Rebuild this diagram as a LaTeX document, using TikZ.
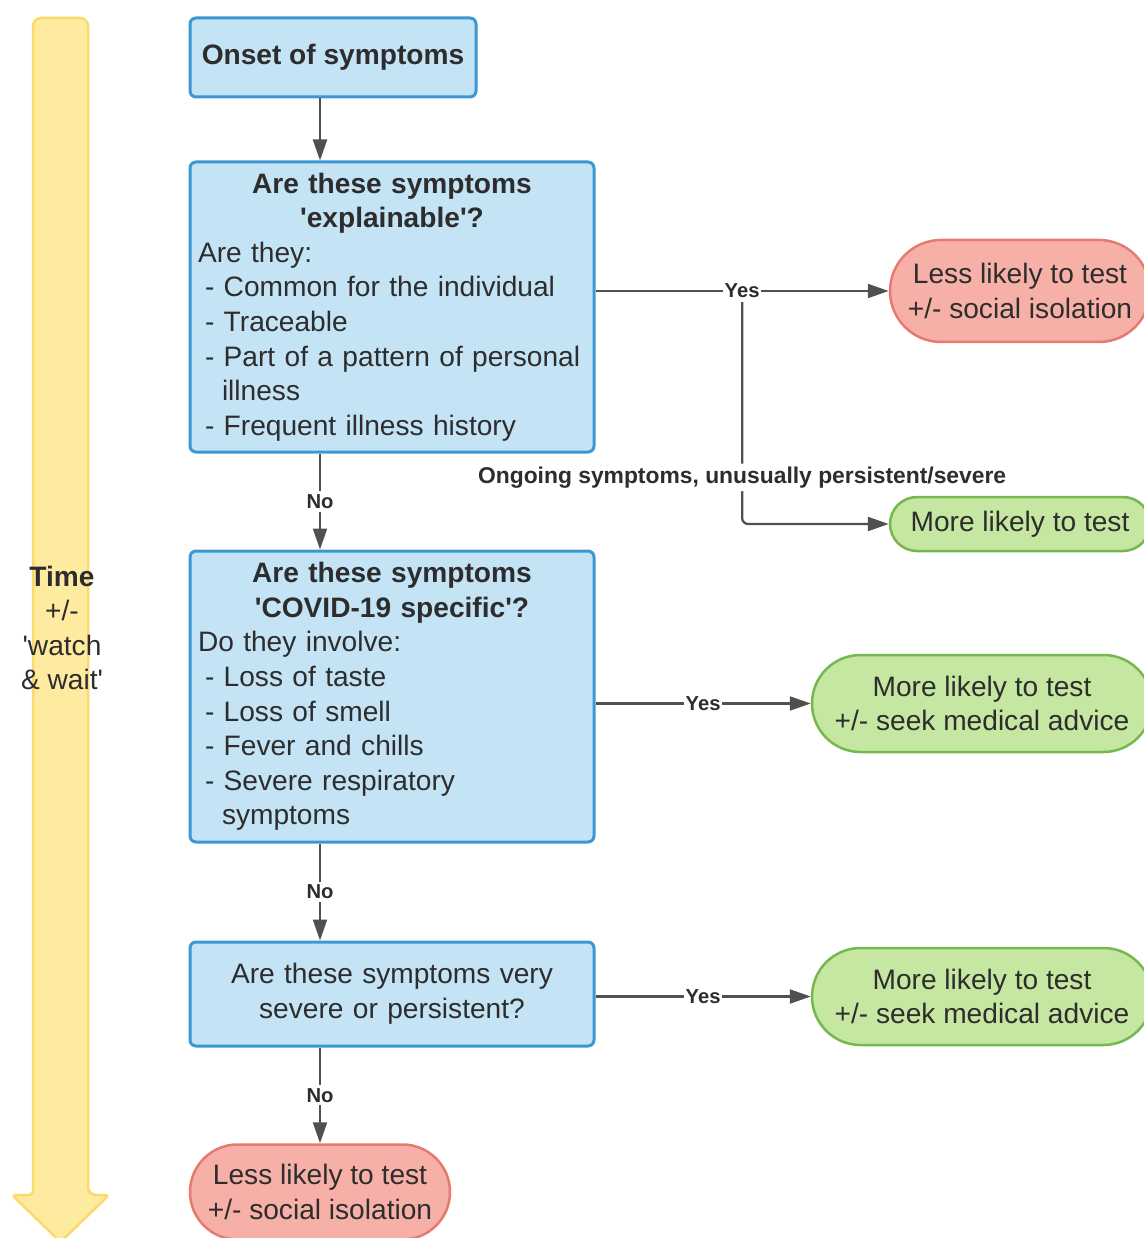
\documentclass[tikz,border=0pt]{standalone}
\usepackage{fontspec}
\setmainfont{Liberation Sans}[Ligatures=TeXOff]
\usetikzlibrary{positioning, arrows.meta}
\setlength{\parindent}{0pt}
\definecolor{boxblue}{RGB}{196,227,245}
\definecolor{boxborder}{RGB}{60,151,211}
\definecolor{redfill}{RGB}{246,176,168}
\definecolor{redborder}{RGB}{230,122,112}
\definecolor{greenfill}{RGB}{198,231,162}
\definecolor{greenborder}{RGB}{118,184,78}
\definecolor{timefill}{RGB}{255,235,160}
\definecolor{timeborder}{RGB}{249,219,107}
\definecolor{arrowgray}{RGB}{80,80,80}
\definecolor{textgray}{RGB}{45,45,45}
\newcommand{\symitem}[1]{\hspace*{1.4mm}- #1}
\newcommand{\symcont}[1]{\hspace*{4.8mm}#1}

\begin{document}
\begin{tikzpicture}
    [
        x=1mm, y=1mm, on grid,
        every node/.style={text=textgray, font=\fontsize{16}{19.7}\selectfont},
        blue_box/.style={rectangle, rounded corners=1.2mm, draw=boxborder, fill=boxblue, line width=0.6mm, inner xsep=1.6mm, inner ysep=0mm},
        red_end/.style={rectangle, rounded corners=#1, draw=redborder, fill=redfill, line width=0.5mm, align=center, inner sep=0mm},
        green_end/.style={rectangle, rounded corners=#1, draw=greenborder, fill=greenfill, line width=0.5mm, align=center, inner sep=0mm},
        flow_arrow/.style={-{Triangle[length=4.2mm, width=2.8mm]}, line width=0.45mm, color=arrowgray},
        choice_label/.style={fill=white, inner xsep=0.3mm, inner ysep=0.6mm, font=\fontsize{11.5}{13}\bfseries\selectfont},
    ]
        \useasboundingbox (0,0) rectangle (228.6,-247.6);
        \draw[fill=timefill, draw=timeborder, line width=0.5mm, rounded corners=1.6mm] (6.6,-239) -- (6.6,-3.6) -- (17.6,-3.6) -- (17.6,-239) [rounded corners=0.8mm] -- (21.8,-239) -- (12.1,-248.4) -- (2.4,-239) -- cycle;
        \node[align=center] (time) at (12.4,-125.6) {\textbf{Time}\\+/-\\'watch\\\& wait'};
        \node[blue_box, minimum width=57.2mm, minimum height=15.8mm, font=\fontsize{16}{19.7}\bfseries\selectfont] (onset) at (66.6,-11.5) {Onset of symptoms};
        \node[blue_box, text width=77.6mm, minimum height=58mm, align=left] (explain) [below right = 49.9mm and 11.8mm of onset] {{\centering\bfseries Are these symptoms\\'explainable'?\par}Are they:\\\symitem{Common for the individual}\\\symitem{Traceable}\\\symitem{Part of a pattern of personal}\\\symcont{illness}\\\symitem{Frequent illness history}};
        \node[red_end=10.2mm, minimum width=52mm, minimum height=20.4mm] (lesstest) [above right = 3.2mm and 125.6mm of explain] {Less likely to test\\+/- social isolation};
        \node[green_end=5.4mm, minimum width=52mm, minimum height=10.8mm] (moretest) [below = 46.6mm of lesstest] {More likely to test};
        \node[blue_box, text width=77.6mm, minimum height=58.2mm, align=left] (covid) [below = 77.9mm of explain] {{\centering\bfseries Are these symptoms\\'COVID-19 specific'?\par}Do they involve:\\\symitem{Loss of taste}\\\symitem{Loss of smell}\\\symitem{Fever and chills}\\\symitem{Severe respiratory}\\\symcont{symptoms}};
        \node[green_end=9.7mm, minimum width=68mm, minimum height=19.4mm] (advice) [below right = 1.4mm and 118mm of covid] {More likely to test\\+/- seek medical advice};
        \node[blue_box, text width=77.6mm, minimum height=20.8mm, align=center] (severe) [below = 59.5mm of covid] {Are these symptoms very\\severe or persistent?};
        \node[green_end=9.7mm, minimum width=68mm, minimum height=19.4mm] (advice_b) [below right = 0.5mm and 118mm of severe] {More likely to test\\+/- seek medical advice};
        \node[red_end=9.5mm, minimum width=52mm, minimum height=19mm] (isolate) [below left = 39.6mm and 14.4mm of severe] {Less likely to test\\+/- social isolation};
        \draw[flow_arrow] (onset.south -| isolate) -- (explain.north -| isolate);
        \draw[flow_arrow] (explain.south -| isolate) -- node[choice_label] {No} (covid.north -| isolate);
        \draw[flow_arrow] (covid.south -| isolate) -- node[choice_label] {No} (severe.north -| isolate);
        \draw[flow_arrow] (severe.south -| isolate) -- node[choice_label] {No} (isolate.north);
        \draw[flow_arrow] (explain.east |- lesstest) -- node[choice_label] (yes_explain) {Yes} (lesstest.west);
        \draw[flow_arrow, rounded corners=1.2mm] (yes_explain.south) -- node[choice_label, pos=0.79, font=\fontsize{13}{15}\bfseries\selectfont] (ongoing) {Ongoing symptoms, unusually persistent/severe} (yes_explain.south |- moretest.west) -- (moretest.west);
        \draw[flow_arrow] (covid.east |- advice) -- node[choice_label] {Yes} (advice.west);
        \draw[flow_arrow] (severe.east |- advice_b) -- node[choice_label] {Yes} (advice_b.west);
    \end{tikzpicture}
\end{document}
